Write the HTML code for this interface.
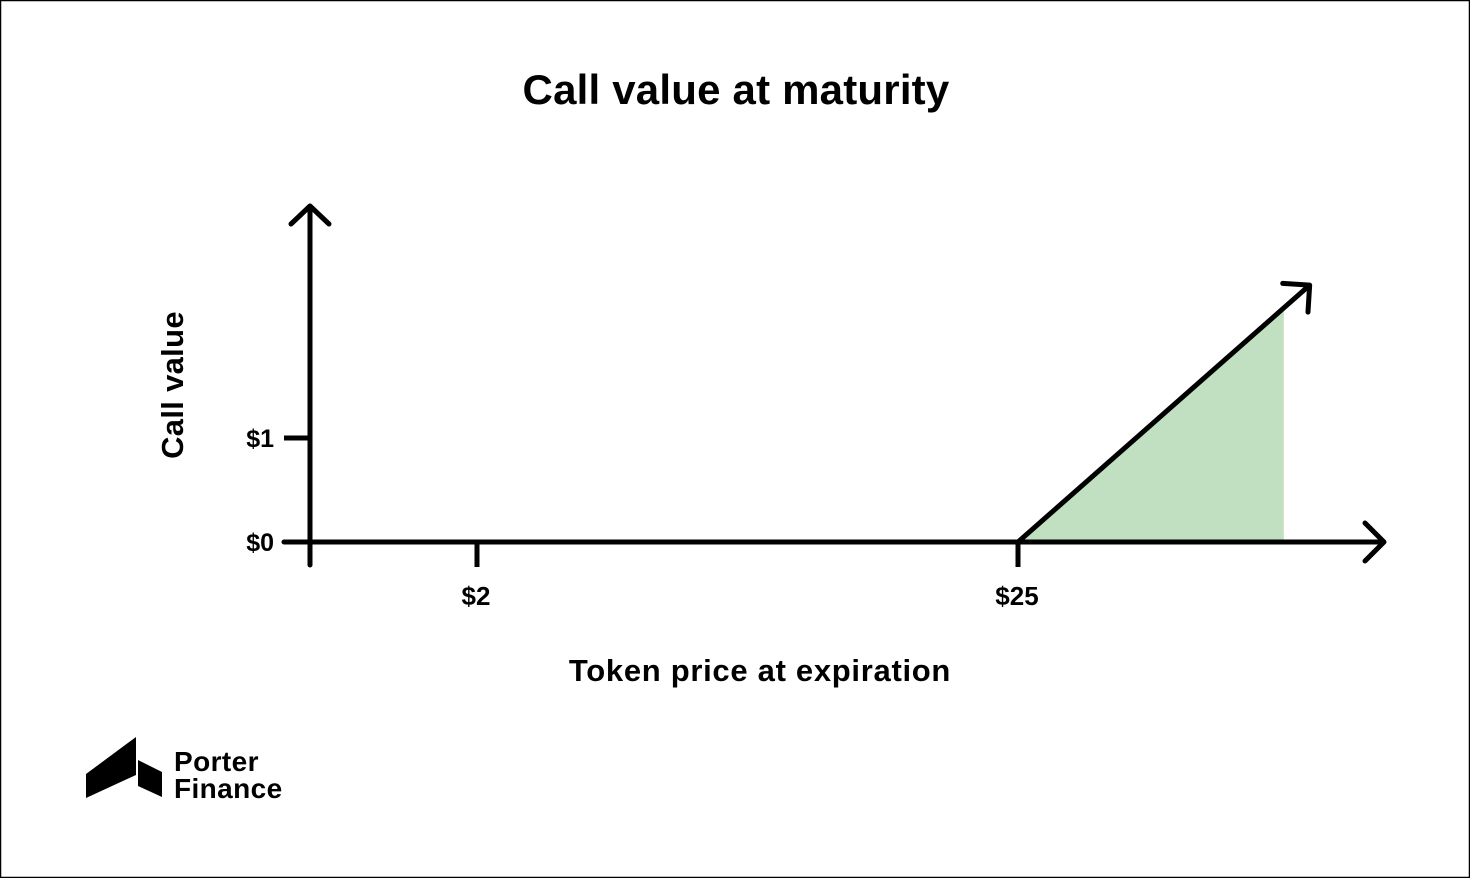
<!DOCTYPE html>
<html><head><meta charset="utf-8"><style>
html,body{margin:0;padding:0;background:#fff}
svg{display:block}
text{font-family:"Liberation Sans",sans-serif;font-weight:bold;fill:#000}
</style></head><body>
<svg width="1470" height="878" viewBox="0 0 1470 878">
<rect x="0.5" y="0.5" width="1469" height="877" fill="#fff" stroke="#000" stroke-width="1.5"/>
<text x="736" y="104" font-size="42" text-anchor="middle" letter-spacing="0.2">Call value at maturity</text>
<g id="plot"></g>
<text x="760" y="681" font-size="31" text-anchor="middle" letter-spacing="0.7">Token price at expiration</text>
<text transform="translate(183,385) rotate(-90)" font-size="31" text-anchor="middle" letter-spacing="0.3">Call value</text>
<g>
<polygon points="86,774 136,737 136,775 86,798" fill="#000"/>
<polygon points="138,760 162,772 162,797 138,786" fill="#000"/>
<text x="174" y="771" font-size="28" letter-spacing="0.4">Porter</text>
<text x="174" y="798" font-size="28" letter-spacing="0.4">Finance</text>
</g>
</svg>
<script>
const xTickValues=[2,25];
const xTickLabels=["$2","$25"];
const yTickValues=[0,1];
const yTickLabels=["$0","$1"];
const payoffPrices=[25,36.3];
const payoffValues=[0,2.25];
const arrowPrice=[37.4];
const arrowValue=[2.47];
const X=v=>477+(v-2)*(1018-477)/23;
const Y=v=>542-v*104;
const NS="http://www.w3.org/2000/svg";
const g=document.getElementById('plot');
function mk(tag,attrs){const e=document.createElementNS(NS,tag);for(const k in attrs)e.setAttribute(k,attrs[k]);g.appendChild(e);return e;}
const fillPts=[[payoffPrices[0],0],[payoffPrices[1],payoffValues[1]],[payoffPrices[1],0]].map(p=>X(p[0])+','+Y(p[1])).join(' ');
const fill=mk('polygon',{points:fillPts,fill:'#c1e0c1'});


const S={stroke:'#000','stroke-width':5,fill:'none','stroke-linecap':'round','stroke-linejoin':'round'};
const ya=mk('path',Object.assign({d:'M310,565 L310,206 M291,224 L310,206 L329,224'},S));


const xa=mk('path',Object.assign({d:'M284,542 L1384,542 M1365,523 L1384,542 L1365,561'},S));


yTickValues.forEach((v,i)=>{
 const t=mk('line',{x1:284,x2:310,y1:Y(v),y2:Y(v),stroke:'#000','stroke-width':5});
 
 
 const l=mk('text',{x:274,y:Y(v)+9,'font-size':25,'text-anchor':'end','letter-spacing':'0'});
 l.textContent=yTickLabels[i];
 
 
});
xTickValues.forEach((v,i)=>{
 const t=mk('line',{x1:X(v),x2:X(v),y1:542,y2:567,stroke:'#000','stroke-width':5});
 
 
 const l=mk('text',{x:X(v)-1,y:605,'font-size':26,'text-anchor':'middle','letter-spacing':'0'});
 l.textContent=xTickLabels[i];
 
 
});
const x0=X(payoffPrices[0]),y0=Y(payoffValues[0]),x1=X(arrowPrice[0]),y1=Y(arrowValue[0]);
const ang=Math.atan2(y1-y0,x1-x0),h=27;
const a1=[x1-h*Math.cos(ang-Math.PI/4),y1-h*Math.sin(ang-Math.PI/4)];
const a2=[x1-h*Math.cos(ang+Math.PI/4),y1-h*Math.sin(ang+Math.PI/4)];
const ln=mk('path',Object.assign({d:`M${x0},${y0} L${x1},${y1} M${a1[0]},${a1[1]} L${x1},${y1} L${a2[0]},${a2[1]}`},S));


</script>
</body></html>
